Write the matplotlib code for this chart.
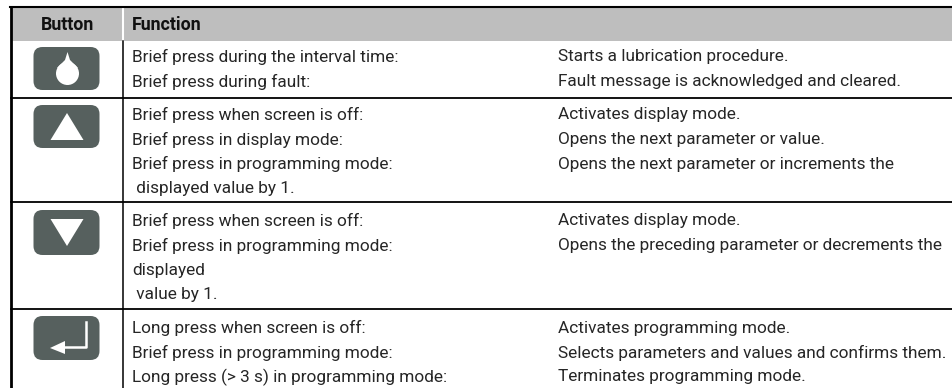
import matplotlib
matplotlib.use("Agg")
import matplotlib.pyplot as plt
from matplotlib.patches import FancyBboxPatch, Polygon, Circle, Rectangle

plt.rcParams['font.family'] = ['Roboto', 'DejaVu Sans']

W, H = 952, 388
GREY_HEAD = '#bebebe'
GREY_BTN = '#56605e'
TXT = '#262626'
FS = 12.4
FS_HEAD = 12.8

headers = ["Button", "Function"]
left_text = [
    ["Brief press during the interval time:", "Brief press during fault:"],
    ["Brief press when screen is off:", "Brief press in display mode:", "Brief press in programming mode:", " displayed value by 1."],
    ["Brief press when screen is off:", "Brief press in programming mode:", "displayed", " value by 1."],
    ["Long press when screen is off:", "Brief press in programming mode:", "Long press (> 3 s) in programming mode:"],
]
right_text = [
    ["Starts a lubrication procedure.", "Fault message is acknowledged and cleared."],
    ["Activates display mode.", "Opens the next parameter or value.", "Opens the next parameter or increments the"],
    ["Activates display mode.", "Opens the preceding parameter or decrements the"],
    ["Activates programming mode.", "Selects parameters and values and confirms them.", "Terminates programming mode."],
]
# pixel geometry of the table
row_lines = [98, 202, 309]
first_line_y = [57, 115, 221, 328]
line_step = 24.5
left_x, col_x = 11, 123
text_x, text2_x = 132, 558


def button(ax, top, bottom):
    ax.add_patch(FancyBboxPatch((33.5 + 8, top + 8), 50, bottom - top - 16,
                                boxstyle="round,pad=8,rounding_size=9",
                                fc=GREY_BTN, ec='none', zorder=2))


fig = plt.figure(figsize=(W / 100, H / 100), dpi=100)
ax = fig.add_axes([0, 0, 1, 1])
ax.set_xlim(0, W)
ax.set_ylim(H, 0)
ax.axis('off')

# header band
ax.add_patch(Rectangle((left_x, 7), W - left_x, 34, fc=GREY_HEAD, ec='none'))
ax.plot([col_x, col_x], [7, 41], color='white', lw=1.5)
ax.text(67, 25, headers[0], ha='center', va='center', fontsize=FS_HEAD, fontweight='bold', color='#111111')
ax.text(text_x, 25, headers[1], ha='left', va='center', fontsize=FS_HEAD, fontweight='bold', color='#111111')

# rules
ax.plot([left_x - 1, W], [7, 7], color='black', lw=1.5)
for y in row_lines:
    ax.plot([left_x, W], [y, y], color='black', lw=1.3)
ax.plot([left_x, left_x], [7, H], color='black', lw=2)
ax.plot([col_x, col_x], [41, H], color='black', lw=1.1)

# text
for i in range(4):
    for j, s in enumerate(left_text[i]):
        ax.text(text_x, first_line_y[i] + j * line_step, s, fontsize=FS, color=TXT, va='center')
    for j, s in enumerate(right_text[i]):
        ax.text(text2_x, first_line_y[i] + j * line_step, s, fontsize=FS, color=TXT, va='center')

# buttons
for top, bottom in [(47, 90), (105, 148), (210, 255), (316, 360)]:
    button(ax, top, bottom)

# drop icon
ax.add_patch(Circle((67.5, 73.5), 11.5, fc='white', ec='none', zorder=3))
ax.add_patch(Polygon([[67.5, 52], [65, 60], [57, 68], [78, 68], [70, 60]], fc='white', ec='none', zorder=3))
# up and down arrows
ax.add_patch(Polygon([[67, 113], [50.5, 140], [83.5, 140]], fc='white', ec='none', zorder=3))
ax.add_patch(Polygon([[50.5, 219], [83.5, 219], [67, 246]], fc='white', ec='none', zorder=3))
# enter arrow
ax.plot([86, 86, 62], [322, 347, 347], color='white', lw=1.8, zorder=3)
ax.add_patch(Polygon([[50, 348], [65, 341], [65, 354]], fc='white', ec='none', zorder=3))

fig.savefig("out.png", dpi=100)
